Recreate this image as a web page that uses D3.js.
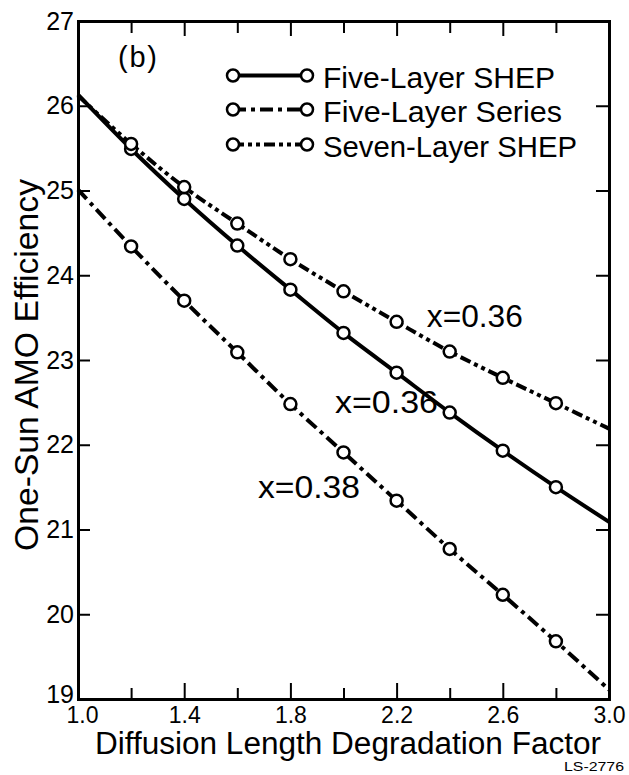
<!DOCTYPE html>
<html>
<head>
<meta charset="utf-8">
<script src="https://cdn.jsdelivr.net/npm/d3@7"></script>
<style>
  html, body { margin: 0; padding: 0; background: #fff; }
  svg { display: block; }
  text { font-family: "Liberation Sans", "DejaVu Sans", sans-serif; fill: #000; }
</style>
</head>
<body>
<svg id="chart" width="629" height="775"></svg>
<script>
// diffusion length degradation factor (x) and efficiencies
const factors = [1.0, 1.2, 1.4, 1.6, 1.8, 2.0, 2.2, 2.4, 2.6, 2.8, 3.0];
const fiveShep = [26.13, 25.49, 24.90, 24.35, 23.83, 23.32, 22.85, 22.38, 21.93, 21.50, 21.09];
const fiveSeries = [25.01, 24.34, 23.70, 23.09, 22.48, 21.91, 21.34, 20.77, 20.23, 19.68, 19.11];
const sevenShep = [26.12, 25.55, 25.04, 24.61, 24.19, 23.81, 23.45, 23.10, 22.79, 22.49, 22.19];

const xLabelTicks = [1.0, 1.4, 1.8, 2.2, 2.6, 3.0];
const xMinorTicks = [1.2, 1.6, 2.0, 2.4, 2.8];
const yTicks = [19, 20, 21, 22, 23, 24, 25, 26, 27];

const seriesNames = ["Five-Layer SHEP", "Five-Layer Series", "Seven-Layer SHEP"];
const annotations = [
  { text: "x=0.36", x: 2.314, y: 23.39, len: 96 },
  { text: "x=0.36", x: 1.968, y: 22.375, len: 103 },
  { text: "x=0.38", x: 1.678, y: 21.37, len: 102 }
];

const svg = d3.select("#chart"),
  width = +svg.attr("width"),
  height = +svg.attr("height"),
  margin = { top: 21, right: 20, bottom: 76, left: 78 };

const x = d3.scaleLinear().domain([1, 3]).range([margin.left, width - margin.right]);
const y = d3.scaleLinear().domain([19, 27]).range([height - margin.bottom, margin.top]);

const styles = [
  { data: fiveShep, dash: null },
  { data: fiveSeries, dash: "13,5,4,5" },
  { data: sevenShep, dash: "11,4,4,4,4,4" }
];

const line = d3.line()
  .x(d => x(d[0]))
  .y(d => y(d[1]))
  .curve(d3.curveCatmullRom.alpha(0.5));

// axes (ticks pointing inward)
function styleAxis(g, fontSize) {
  g.select(".domain").attr("stroke", "#000").attr("stroke-width", 3).attr("stroke-linecap", "square");
  g.selectAll(".tick line").attr("stroke", "#000").attr("stroke-width", 2);
  g.selectAll("text").attr("font-size", fontSize).attr("font-family", null);
  g.attr("font-family", null);
}

const plotBottom = height - margin.bottom, plotRight = width - margin.right;

svg.append("g").attr("transform", `translate(0,${plotBottom})`)
  .call(d3.axisBottom(x).tickValues(xLabelTicks).tickFormat(d3.format(".1f"))
    .tickSize(-16).tickSizeOuter(0).tickPadding(8))
  .call(g => styleAxis(g, 23))
  .call(g => g.selectAll(".tick text").attr("dx", (d, i) => i === 0 ? 4 : 0));
svg.append("g").attr("transform", `translate(0,${plotBottom})`)
  .call(d3.axisBottom(x).tickValues(xMinorTicks).tickFormat("").tickSize(-11).tickSizeOuter(0))
  .call(g => styleAxis(g, 23));
svg.append("g").attr("transform", `translate(0,${margin.top})`)
  .call(d3.axisTop(x).tickValues(xLabelTicks.slice(1, -1)).tickFormat("").tickSize(-15).tickSizeOuter(0))
  .call(g => styleAxis(g, 23));
svg.append("g").attr("transform", `translate(0,${margin.top})`)
  .call(d3.axisTop(x).tickValues(xMinorTicks).tickFormat("").tickSize(-12).tickSizeOuter(0))
  .call(g => styleAxis(g, 23));
svg.append("g").attr("transform", `translate(${margin.left},0)`)
  .call(d3.axisLeft(y).tickValues(yTicks).tickFormat(d3.format("d"))
    .tickSize(-12).tickSizeOuter(0).tickPadding(4))
  .call(g => styleAxis(g, 25))
  .call(g => g.selectAll(".tick text").attr("dy", d => d === 19 ? "0.15em" : "0.32em"));
svg.append("g").attr("transform", `translate(${plotRight},0)`)
  .call(d3.axisRight(y).tickValues(yTicks.slice(1, -1)).tickFormat("").tickSize(-13).tickSizeOuter(0))
  .call(g => styleAxis(g, 25));

// curves
styles.forEach(s => {
  const pts = factors.map((f, i) => [f, s.data[i]]);
  svg.append("path")
    .attr("d", line(pts))
    .attr("fill", "none")
    .attr("stroke", "#000")
    .attr("stroke-width", 4)
    .attr("stroke-dasharray", s.dash);
});

// open circle markers (not at the ends)
styles.forEach(s => {
  svg.append("g").selectAll("circle")
    .data(factors.map((f, i) => [f, s.data[i]]).slice(1, -1))
    .join("circle")
    .attr("cx", d => x(d[0]))
    .attr("cy", d => y(d[1]))
    .attr("r", 6)
    .attr("fill", "#fff")
    .attr("stroke", "#000")
    .attr("stroke-width", 2.5);
});

// legend
const legend = svg.append("g");
const legendRows = [75.5, 109.5, 144.5];
seriesNames.forEach((name, i) => {
  const ly = legendRows[i];
  legend.append("line")
    .attr("x1", 233).attr("x2", 307).attr("y1", ly).attr("y2", ly)
    .attr("stroke", "#000").attr("stroke-width", 4)
    .attr("stroke-dasharray", styles[i].dash);
  [233, 307].forEach(cx => legend.append("circle")
    .attr("cx", cx).attr("cy", ly).attr("r", 6)
    .attr("fill", "#fff").attr("stroke", "#000").attr("stroke-width", 2.5));
  legend.append("text")
    .attr("x", 323).attr("y", ly + 12)
    .attr("font-size", 30)
    .attr("textLength", [232, 239, 254][i])
    .attr("lengthAdjust", "spacingAndGlyphs")
    .text(name);
});

// panel label
svg.append("text")
  .attr("x", 118).attr("y", 67)
  .attr("font-size", 29)
  .attr("textLength", 39)
  .attr("lengthAdjust", "spacing")
  .text("(b)");

// curve annotations
annotations.forEach(a => {
  svg.append("text")
    .attr("x", x(a.x)).attr("y", y(a.y))
    .attr("font-size", 31)
    .attr("textLength", a.len)
    .attr("lengthAdjust", "spacingAndGlyphs")
    .text(a.text);
});

// axis titles
svg.append("text")
  .attr("x", 95).attr("y", 754)
  .attr("font-size", 31)
  .attr("textLength", 506)
  .attr("lengthAdjust", "spacingAndGlyphs")
  .text("Diffusion Length Degradation Factor");

svg.append("text")
  .attr("transform", "translate(38,365) rotate(-90)")
  .attr("text-anchor", "middle")
  .attr("font-size", 33)
  .attr("textLength", 372)
  .attr("lengthAdjust", "spacingAndGlyphs")
  .text("One-Sun AMO Efficiency");

svg.append("text")
  .attr("x", 564).attr("y", 771)
  .attr("font-size", 12)
  .attr("textLength", 60)
  .attr("lengthAdjust", "spacingAndGlyphs")
  .text("LS-2776");
</script>
</body>
</html>
